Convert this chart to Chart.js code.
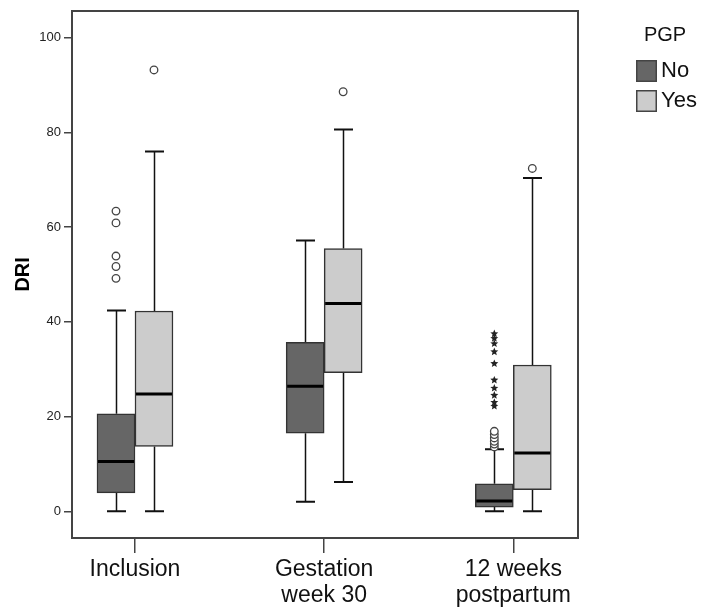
<!DOCTYPE html>
<html>
<head>
<meta charset="utf-8">
<script src="https://cdn.jsdelivr.net/npm/chart.js@4.4.1/dist/chart.umd.min.js"></script>
<style>
  body { margin: 0; background: #fff; }
</style>
</head>
<body>
<canvas id="dri" width="702" height="610"></canvas>
<script>
// tick labels and groups
const catLabels = [['Inclusion'], ['Gestation', 'week 30'], ['12 weeks', 'postpartum']];
const groups = ['No', 'Yes'];
const yTicks = [0, 20, 40, 60, 80, 100];

// PGP = No
const noMin = [0, 2.0, 0];
const noQ1 = [3.9, 16.5, 0.9];
const noMedian = [10.5, 26.4, 2.2];
const noQ3 = [20.6, 35.7, 5.8];
const noMax = [42.4, 57.2, 13.1];
const noOutliers = [[49.2, 51.7, 53.9, 60.9, 63.4], [], [13.6, 14.2, 14.8, 15.5, 16.2, 16.9]];
const noExtremes = [[], [], [22.2, 23.0, 24.5, 26.0, 27.7, 31.2, 33.7, 35.4, 36.5, 37.5]];

// PGP = Yes
const yesMin = [0, 6.2, 0];
const yesQ1 = [13.7, 29.3, 4.6];
const yesMedian = [24.8, 43.9, 12.3];
const yesQ3 = [42.3, 55.5, 30.9];
const yesMax = [76.0, 80.6, 70.4];
const yesOutliers = [[93.2], [88.6], [72.4]];
const yesExtremes = [[], [], []];

const fills = ['#666666', '#cccccc'];
const stats = [
  { min: noMin, q1: noQ1, med: noMedian, q3: noQ3, max: noMax, out: noOutliers, ext: noExtremes },
  { min: yesMin, q1: yesQ1, med: yesMedian, q3: yesQ3, max: yesMax, out: yesOutliers, ext: yesExtremes }
];

Chart.defaults.font.family = "'Liberation Sans', Arial, sans-serif";
Chart.defaults.color = '#1a1a1a';

// legend swatch with a little empty room on its left
function swatch(color) {
  const c = document.createElement('canvas');
  c.width = 28;
  c.height = 22;
  const g = c.getContext('2d');
  g.fillStyle = color;
  g.fillRect(7, 0, 21, 22);
  g.strokeStyle = '#444';
  g.lineWidth = 1.5;
  g.strokeRect(7.75, 0.75, 19.5, 20.5);
  return c;
}

function star(ctx, x, y, r) {
  ctx.beginPath();
  for (let k = 0; k < 10; k++) {
    const rad = k % 2 === 0 ? r : r * 0.45;
    const a = -Math.PI / 2 + k * Math.PI / 5;
    const px = x + rad * Math.cos(a);
    const py = y + rad * Math.sin(a);
    if (k === 0) ctx.moveTo(px, py); else ctx.lineTo(px, py);
  }
  ctx.closePath();
  ctx.fill();
}

// whiskers, medians and outliers, placed on the bar elements
const boxParts = {
  id: 'boxParts',
  beforeDatasetsDraw(chart) {
    const ctx = chart.ctx;
    const ys = chart.scales.y;
    ctx.save();
    ctx.strokeStyle = '#111';
    stats.forEach((s, d) => {
      chart.getDatasetMeta(d).data.forEach((el, i) => {
        const x = Math.round(el.x) + 0.5;
        const cap = el.width / 2;
        ctx.lineWidth = 1.5;
        ctx.beginPath();
        ctx.moveTo(x, ys.getPixelForValue(s.q3[i]));
        ctx.lineTo(x, ys.getPixelForValue(s.max[i]));
        ctx.moveTo(x, ys.getPixelForValue(s.q1[i]));
        ctx.lineTo(x, ys.getPixelForValue(s.min[i]));
        ctx.stroke();
        ctx.lineWidth = 2;
        ctx.beginPath();
        [s.max[i], s.min[i]].forEach(v => {
          const py = ys.getPixelForValue(v);
          ctx.moveTo(x - cap / 2, py);
          ctx.lineTo(x + cap / 2, py);
        });
        ctx.stroke();
      });
    });
    ctx.restore();
  },
  afterDatasetsDraw(chart) {
    const ctx = chart.ctx;
    const ys = chart.scales.y;
    ctx.save();
    stats.forEach((s, d) => {
      chart.getDatasetMeta(d).data.forEach((el, i) => {
        const x = el.x;
        const half = el.width / 2;
        const py = ys.getPixelForValue(s.med[i]);
        ctx.strokeStyle = '#000';
        ctx.lineWidth = 3;
        ctx.beginPath();
        ctx.moveTo(x - half + 1, py);
        ctx.lineTo(x + half - 1, py);
        ctx.stroke();
        ctx.lineWidth = 1.3;
        ctx.strokeStyle = '#444';
        ctx.fillStyle = '#fff';
        s.out[i].forEach(v => {
          ctx.beginPath();
          ctx.arc(x, ys.getPixelForValue(v), 3.8, 0, Math.PI * 2);
          ctx.fill();
          ctx.stroke();
        });
        ctx.fillStyle = '#222';
        s.ext[i].forEach(v => star(ctx, x, ys.getPixelForValue(v), 4.2));
      });
    });
    ctx.restore();
  }
};

const datasets = groups.map((g, d) => ({
  label: g,
  data: stats[d].q1.map((q1, i) => ({ x: i, y: [q1, stats[d].q3[i]] })),
  backgroundColor: fills[d],
  borderColor: '#333',
  borderWidth: 1.5,
  borderSkipped: false,
  barThickness: 38
}));

new Chart(document.getElementById('dri'), {
  type: 'bar',
  data: { datasets: datasets },
  plugins: [boxParts],
  options: {
    responsive: false,
    animation: false,
    events: [],
    layout: { padding: 0 },
    plugins: {
      tooltip: { enabled: false },
      legend: {
        position: 'right',
        align: 'start',
        maxWidth: 74,
        title: {
          display: true,
          text: 'PGP',
          position: 'center',
          color: '#111',
          font: { size: 20 },
          padding: { top: 25, bottom: 3 }
        },
        labels: {
          usePointStyle: true,
          pointStyleWidth: 14,
          padding: 8,
          color: '#111',
          font: { size: 22 },
          generateLabels: () => groups.map((g, d) => ({
            text: g,
            pointStyle: swatch(fills[d]),
            fillStyle: fills[d],
            strokeStyle: '#444',
            lineWidth: 0,
            hidden: false,
            datasetIndex: d
          }))
        }
      }
    },
    scales: {
      x: {
        type: 'linear',
        position: 'bottom',
        min: -0.333,
        max: 2.342,
        offset: false,
        afterBuildTicks: (scale) => { scale.ticks = catLabels.map((c, i) => ({ value: i })); },
        afterFit: (scale) => { scale.height = 72; },
        grid: { display: true, offset: false, drawOnChartArea: false, drawTicks: true, tickLength: 15, tickColor: '#444', lineWidth: 1.5 },
        border: { display: true, color: '#444', width: 2 },
        ticks: {
          autoSkip: false,
          maxRotation: 0,
          padding: 3,
          color: '#111',
          font: { size: 23, lineHeight: 1.15 },
          callback: (v) => catLabels[v]
        }
      },
      y: {
        type: 'linear',
        position: 'left',
        min: -5.63,
        max: 105.69,
        afterBuildTicks: (scale) => { scale.ticks = yTicks.map(v => ({ value: v })); },
        afterFit: (scale) => { scale.width = 72; },
        grid: { display: true, drawOnChartArea: false, drawTicks: true, tickLength: 8, tickColor: '#444', lineWidth: 1.5 },
        border: { display: true, color: '#444', width: 2 },
        ticks: { padding: 3, color: '#222', font: { size: 13 } },
        title: {
          display: true,
          text: 'DRI',
          color: '#000',
          font: { size: 20, weight: 'bold' },
          padding: { top: 11, bottom: 0 }
        }
      },
      x2: {
        type: 'linear',
        position: 'top',
        afterFit: (scale) => { scale.height = 10; },
        grid: { display: false, drawTicks: false },
        border: { display: true, color: '#444', width: 2 },
        ticks: { display: false }
      },
      y2: {
        type: 'linear',
        position: 'right',
        afterFit: (scale) => { scale.width = 50; },
        grid: { display: false, drawTicks: false },
        border: { display: true, color: '#444', width: 2 },
        ticks: { display: false }
      }
    }
  }
});
</script>
</body>
</html>
